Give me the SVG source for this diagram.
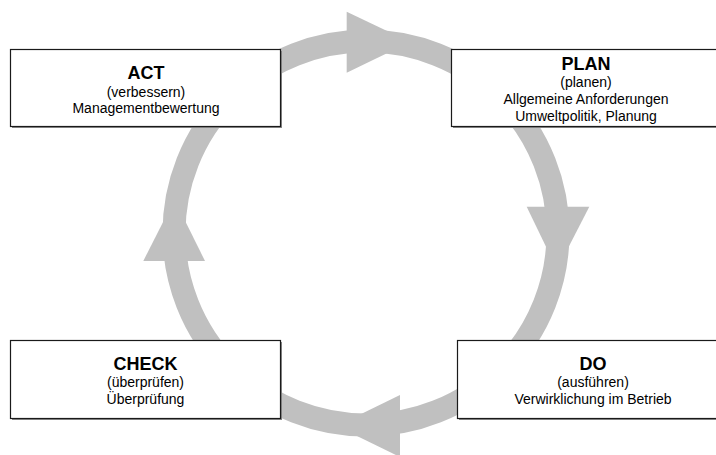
<svg xmlns="http://www.w3.org/2000/svg" width="716" height="455" viewBox="0 0 716 455">
<style>
.ring{fill:none;stroke:#c0c0c0;stroke-width:23}
.head{fill:#c0c0c0}
.box{fill:#ffffff;stroke:#1a1a1a;stroke-width:1.2}
.shadow{fill:#8a8a8a}
.t{font-family:"Liberation Sans",Arial,sans-serif;font-weight:bold;font-size:18px;text-anchor:middle;fill:#000}
.s{font-family:"Liberation Sans",Arial,sans-serif;font-size:14px;text-anchor:middle;fill:#000}
</style>
<rect width="716" height="455" fill="#ffffff"/>
<g id="connectors">
<circle class="ring" cx="366" cy="233" r="192"/>
<polygon class="head" points="346.7,11.7 346.7,72.7 410.2,42"/>
<polygon class="head" points="526.7,206.7 589.3,206.7 557,269.5"/>
<polygon class="head" points="400,395 400,457 336.5,426"/>
<polygon class="head" points="143.3,261 205,261 174.5,199.5"/>
</g>
<g id="act">
<rect class="shadow" x="12" y="51" width="270" height="77"/>
<rect class="box" x="10.5" y="49.5" width="270" height="77"/>
<text class="t" x="146" y="79">ACT</text>
<text class="s" x="146" y="96.5">(verbessern)</text>
<text class="s" x="146" y="113">Managementbewertung</text>
</g>
<g id="plan">
<rect class="shadow" x="453" y="51" width="270" height="77"/>
<rect class="box" x="451.5" y="49.5" width="270" height="77"/>
<text class="t" x="586" y="70">PLAN</text>
<text class="s" x="586" y="87">(planen)</text>
<text class="s" x="586" y="104">Allgemeine Anforderungen</text>
<text class="s" x="586" y="121">Umweltpolitik, Planung</text>
</g>
<g id="check">
<rect class="shadow" x="12" y="342" width="270" height="78"/>
<rect class="box" x="10.5" y="340.5" width="270" height="78"/>
<text class="t" x="145.5" y="370">CHECK</text>
<text class="s" x="145.5" y="387">(überprüfen)</text>
<text class="s" x="145.5" y="403.5">Überprüfung</text>
</g>
<g id="do">
<rect class="shadow" x="459" y="342" width="270" height="78"/>
<rect class="box" x="457.5" y="340.5" width="270" height="78"/>
<text class="t" x="593" y="370">DO</text>
<text class="s" x="593" y="387">(ausführen)</text>
<text class="s" x="593" y="404">Verwirklichung im Betrieb</text>
</g>
</svg>
